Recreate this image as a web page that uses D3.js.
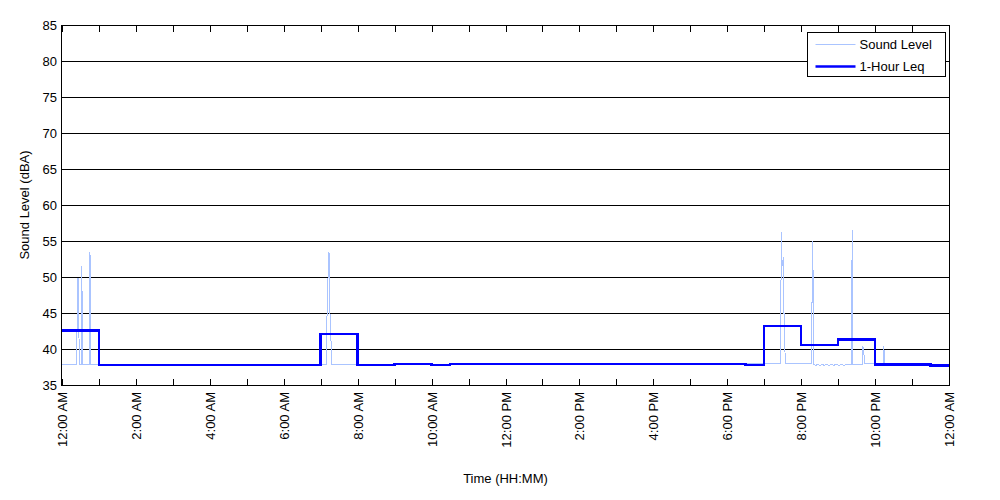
<!DOCTYPE html>
<html>
<head>
<meta charset="utf-8">
<script src="https://cdn.jsdelivr.net/npm/d3@7"></script>
<style>
	body { margin: 0; background: #fff; }
	text { font-family: 'Liberation Sans', Arial, sans-serif; font-size: 13px; fill: #000; }
</style>
</head>
<body>
<div id="chart"></div>
<script>
// hourly Leq, stepped (start hour of each step)
var leqHours = [0, 1, 7, 8, 9, 10, 10.5, 18.5, 19, 20, 21, 22, 23.5, 24];
var leqValues = [42.55, 37.8, 42.1, 37.8, 37.95, 37.8, 37.95, 37.8, 43.2, 40.55, 41.35, 37.85, 37.7, 37.7];

// sound level trace, minute of day and dBA
var soundMinutes = [
	0, 24, 25, 26, 27, 28, 31, 32, 33, 34, 44, 45, 46, 47,
	429, 430, 431, 432, 433, 434, 435, 436, 437, 438,
	1166, 1167, 1168, 1169, 1170, 1171, 1172, 1173, 1174,
	1216, 1217, 1218, 1219, 1220, 1224, 1226, 1231, 1233, 1238, 1240, 1246, 1248, 1253, 1255, 1262, 1264, 1270, 1272,
	1281, 1282, 1283, 1284, 1299, 1300, 1301, 1302, 1303,
	1333, 1334, 1335, 1336, 1440
];
var soundValues = [
	37.9, 37.9, 49.6, 49.9, 47.2, 37.9, 37.9, 51.5, 44.6, 37.9, 37.9, 53.4, 52.6, 37.9,
	37.85, 43.1, 49.3, 49.9, 53.5, 53.2, 45.3, 41.5, 41.0, 37.85,
	38.0, 46.9, 56.2, 52.0, 51.5, 52.8, 45.0, 45.0, 38.0,
	38.0, 46.4, 46.4, 55.0, 37.9, 37.7, 37.9, 37.7, 37.9, 37.7, 37.9, 37.7, 37.9, 37.7, 37.9, 37.7, 37.9, 37.7, 37.9,
	37.9, 47.1, 56.5, 37.9, 37.9, 40.3, 40.2, 39.2, 38.0,
	37.9, 40.4, 39.2, 37.9, 37.9
];

var yTicks = [35, 40, 45, 50, 55, 60, 65, 70, 75, 80, 85];
var xTickLabels = ['12:00 AM', '2:00 AM', '4:00 AM', '6:00 AM', '8:00 AM', '10:00 AM', '12:00 PM',
	'2:00 PM', '4:00 PM', '6:00 PM', '8:00 PM', '10:00 PM', '12:00 AM'];

var margin = { top: 25, right: 51, bottom: 115, left: 62 };
var width = 1000 - margin.left - margin.right;
var height = 500 - margin.top - margin.bottom;

var svg = d3.select('#chart')
	.append('svg')
	.attr('width', 1000)
	.attr('height', 500);

var g = svg.append('g')
	.attr('transform', 'translate(' + margin.left + ',' + margin.top + ')');

var x = d3.scaleLinear().domain([0, 24]).range([0, width]);
var y = d3.scaleLinear().domain([35, 85]).range([height, 0]);

// horizontal grid
g.selectAll('.grid')
	.data(yTicks)
	.enter()
	.append('line')
	.attr('x1', 0)
	.attr('x2', width)
	.attr('y1', (d) => Math.round(y(d)) + 0.5)
	.attr('y2', (d) => Math.round(y(d)) + 0.5)
	.attr('stroke', '#000')
	.attr('stroke-width', 1);

// y labels
g.selectAll('.ylab')
	.data(yTicks)
	.enter()
	.append('text')
	.attr('x', -5)
	.attr('y', (d) => y(d))
	.attr('dy', '0.35em')
	.attr('text-anchor', 'end')
	.text((d) => d);

// hour ticks, top and bottom, inward
var hours = d3.range(0, 25);
g.selectAll('.tickb')
	.data(hours)
	.enter()
	.append('line')
	.attr('x1', (d) => Math.round(x(d)) + 0.5)
	.attr('x2', (d) => Math.round(x(d)) + 0.5)
	.attr('y1', height)
	.attr('y2', height - 6)
	.attr('stroke', '#000');
g.selectAll('.tickt')
	.data(hours)
	.enter()
	.append('line')
	.attr('x1', (d) => Math.round(x(d)) + 0.5)
	.attr('x2', (d) => Math.round(x(d)) + 0.5)
	.attr('y1', 0)
	.attr('y2', 7)
	.attr('stroke', '#000');

// x labels, every 2 hours, rotated
g.selectAll('.xlab')
	.data(xTickLabels)
	.enter()
	.append('text')
	.attr('transform', (d, i) => 'translate(' + (x(i * 2) + 5) + ',' + (height + 7) + ')rotate(-90)')
	.attr('text-anchor', 'end')
	.text((d) => d);

var clip = g.append('clipPath').attr('id', 'clip')
	.append('rect').attr('width', width).attr('height', height);

var plot = g.append('g').attr('clip-path', 'url(#clip)');

var soundData = soundMinutes.map((m, i) => ({ t: m / 60, v: soundValues[i] }));
var leqData = leqHours.map((h, i) => ({ t: h, v: leqValues[i] }));

var soundLine = d3.line()
	.x((d) => x(d.t))
	.y((d) => y(d.v));

plot.append('path')
	.datum(soundData)
	.attr('fill', 'none')
	.attr('stroke', '#aac4ff')
	.attr('stroke-width', 1)
	.attr('shape-rendering', 'crispEdges')
	.attr('d', soundLine);

var leqLine = d3.line()
	.x((d) => x(d.t))
	.y((d) => y(d.v))
	.curve(d3.curveStepAfter);

plot.append('path')
	.datum(leqData)
	.attr('fill', 'none')
	.attr('stroke', '#0000ff')
	.attr('stroke-width', 2.5)
	.attr('shape-rendering', 'crispEdges')
	.attr('d', leqLine);

// plot frame
g.append('rect')
	.attr('x', -0.5)
	.attr('y', 0.5)
	.attr('width', width + 1)
	.attr('height', height)
	.attr('fill', 'none')
	.attr('stroke', '#000');

// legend
var legend = g.append('g').attr('transform', 'translate(' + (width - 141.5) + ',7.5)');
legend.append('rect')
	.attr('width', 138)
	.attr('height', 44)
	.attr('fill', '#fff')
	.attr('stroke', '#000');
var legendItems = [
	{ name: 'Sound Level', color: '#aac4ff', w: 1 },
	{ name: '1-Hour Leq', color: '#0000ff', w: 2.5 },
];
legendItems.forEach((d, i) => {
	legend.append('line')
		.attr('x1', 8)
		.attr('x2', 48)
		.attr('y1', 12 + i * 22)
		.attr('y2', 12 + i * 22)
		.attr('stroke', d.color)
		.attr('stroke-width', d.w);
	legend.append('text')
		.attr('x', 52)
		.attr('y', 12 + i * 22)
		.attr('dy', '0.35em')
		.text(d.name);
});

// axis titles
svg.append('text')
	.attr('transform', 'translate(29,' + (margin.top + height / 2) + ')rotate(-90)')
	.attr('text-anchor', 'middle')
	.text('Sound Level (dBA)');
svg.append('text')
	.attr('x', margin.left + width / 2)
	.attr('y', 483)
	.attr('text-anchor', 'middle')
	.text('Time (HH:MM)');
</script>
</body>
</html>
